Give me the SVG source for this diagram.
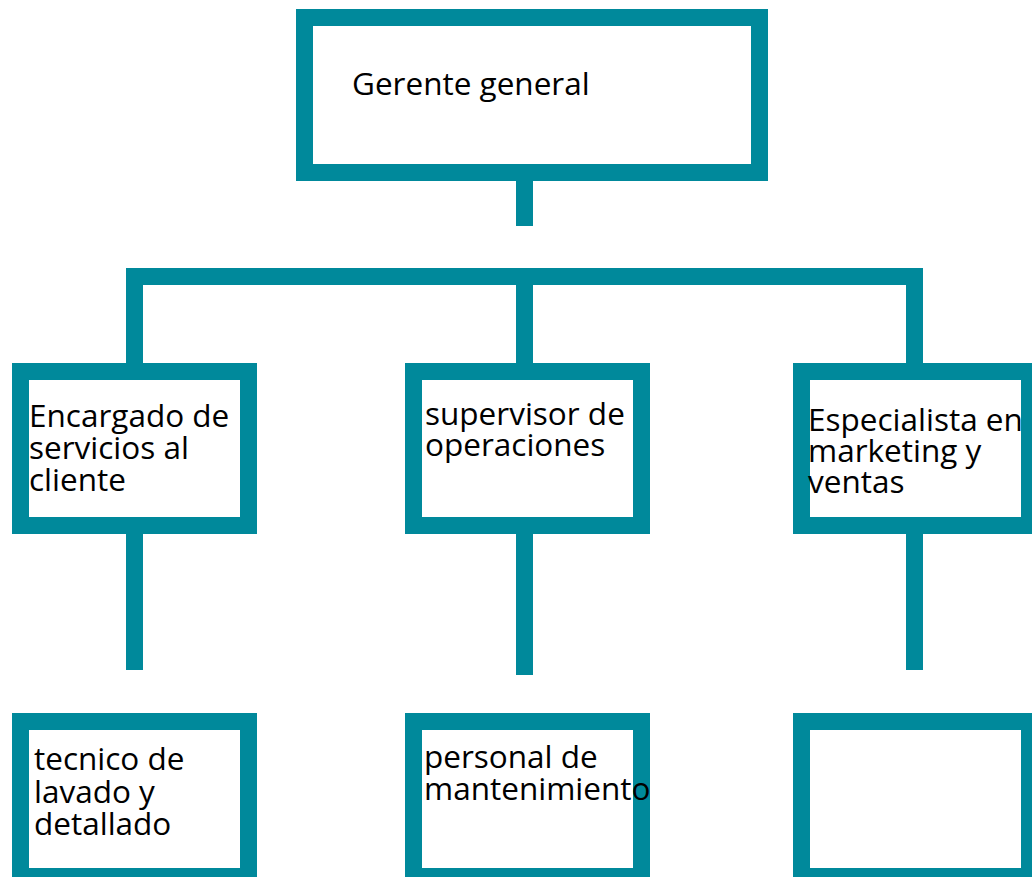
<svg xmlns="http://www.w3.org/2000/svg" width="1032" height="877" viewBox="0 0 1032 877">
<style>
.box{fill:#ffffff;stroke:#00899b;stroke-width:17}
.ln{fill:none;stroke:#00899b;stroke-width:17}
text{font-family:"Open Sans","Noto Sans","DejaVu Sans",sans-serif;fill:#000000;font-size:31.5px}
</style>
<rect width="1032" height="877" fill="#ffffff"/>
<g id="connectors">
<line class="ln" x1="524.5" y1="181" x2="524.5" y2="226"/>
<polyline class="ln" points="134.5,363 134.5,276.5 914.5,276.5 914.5,363"/>
<line class="ln" x1="524.5" y1="276.5" x2="524.5" y2="363"/>
<line class="ln" x1="134.5" y1="534" x2="134.5" y2="670"/>
<line class="ln" x1="524.5" y1="534" x2="524.5" y2="675"/>
<line class="ln" x1="914.5" y1="534" x2="914.5" y2="670"/>
</g>
<g id="gerente">
<rect class="box" x="304.5" y="17.5" width="455" height="155"/>
<text x="352" y="95">Gerente general</text>
</g>
<g id="encargado">
<rect class="box" x="20.5" y="371.5" width="228" height="154"/>
<text x="29" y="427">Encargado de</text>
<text x="29" y="459">servicios al</text>
<text x="29" y="491">cliente</text>
</g>
<g id="supervisor">
<rect class="box" x="413.5" y="371.5" width="228" height="154"/>
<text x="425" y="425">supervisor de</text>
<text x="425" y="456">operaciones</text>
</g>
<g id="especialista">
<rect class="box" x="801.5" y="371.5" width="228" height="154"/>
<text x="808" y="431">Especialista en</text>
<text x="808" y="462">marketing y</text>
<text x="808" y="493">ventas</text>
</g>
<g id="tecnico">
<rect class="box" x="20.5" y="721.5" width="228" height="155"/>
<text x="34" y="770">tecnico de</text>
<text x="34" y="803">lavado y</text>
<text x="34" y="835">detallado</text>
</g>
<g id="personal">
<rect class="box" x="413.5" y="721.5" width="228" height="155"/>
<text x="424" y="768">personal de</text>
<text x="424" y="800">mantenimiento</text>
</g>
<g id="vacio">
<rect class="box" x="801.5" y="721.5" width="228" height="155"/>
</g>
</svg>
